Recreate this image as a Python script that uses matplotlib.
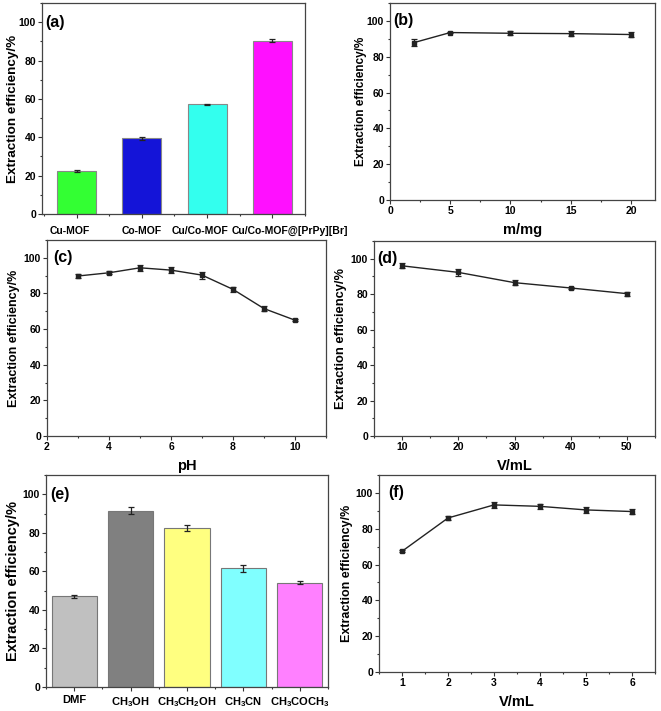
import matplotlib
matplotlib.use("Agg")
import matplotlib.pyplot as plt
from matplotlib.ticker import MultipleLocator, FixedLocator
from matplotlib.transforms import ScaledTranslation, blended_transform_factory

plt.rcParams['font.family'] = ['Liberation Sans', 'DejaVu Sans']
plt.rcParams['font.weight'] = 'bold'
plt.rcParams['mathtext.fontset'] = 'custom'
plt.rcParams['mathtext.bf'] = 'Liberation Sans:bold'
plt.rcParams['mathtext.rm'] = 'Liberation Sans:bold'
plt.rcParams['mathtext.default'] = 'bf'

# ---- data ----
a_cats = ['Cu-MOF', 'Co-MOF', 'Cu/Co-MOF', 'Cu/Co-MOF@[PrPy][Br]']
a_vals = [22.6, 39.4, 57.1, 90.3]
a_errs = [0.5, 1.0, 0.5, 0.8]
a_colors = ['#33ff33', '#1414d8', '#33ffee', '#ff10ff']

b_x = [2, 5, 10, 15, 20]
b_y = [87.9, 93.5, 93.1, 92.9, 92.4]
b_err = [1.8, 0.5, 1.0, 1.5, 1.2]

c_x = [3, 4, 5, 6, 7, 8, 9, 10]
c_y = [89.8, 91.6, 94.4, 93.1, 90.3, 82.3, 71.5, 65.0]
c_err = [1.2, 0.8, 1.8, 1.5, 2.0, 1.5, 1.2, 0.6]

d_x = [10, 20, 30, 40, 50]
d_y = [96.0, 92.3, 86.5, 83.5, 80.3]
d_err = [1.5, 1.8, 1.5, 0.8, 1.2]

e_cats = ['DMF', r'CH$_3$OH', r'CH$_3$CH$_2$OH', r'CH$_3$CN', r'CH$_3$COCH$_3$']
e_vals = [47.0, 91.5, 82.4, 61.5, 54.2]
e_errs = [0.8, 1.8, 1.5, 2.0, 1.0]
e_colors = ['#c0c0c0', '#808080', '#ffff80', '#80ffff', '#ff80ff']

f_x = [1, 2, 3, 4, 5, 6]
f_y = [67.4, 86.0, 93.3, 92.5, 90.5, 89.6]
f_err = [0.5, 1.0, 1.5, 1.3, 1.8, 1.5]

yticks = [0, 20, 40, 60, 80, 100]

W, H = 661, 711
fig = plt.figure(figsize=(W / 100, H / 100), dpi=100)
fig.patch.set_facecolor('white')


def add_ax(l, r, t, b):
    ax = fig.add_axes([l / W, 1 - b / H, (r - l) / W, (b - t) / H])
    ax._px = (l, r, t, b)
    return ax


def style(ax, label, ylabel_size, ylabel_right, label_dx):
    l, r, t, b = ax._px
    ax.set_ylim(0, 110)
    ax.yaxis.set_major_locator(FixedLocator(yticks))
    ax.yaxis.set_minor_locator(MultipleLocator(10))
    ax.tick_params(which='both', direction='out', top=False, right=False,
                   labelsize=7.5, width=0.8, colors='#333333', labelcolor='black',
                   pad=1.5)
    ax.tick_params(which='major', length=2.8)
    ax.tick_params(which='minor', length=1.6)
    for s in ax.spines.values():
        s.set_linewidth(0.9)
        s.set_color('#444444')
    ax.set_ylabel('Extraction efficiency/%', fontsize=ylabel_size,
                  fontweight='bold')
    ax.yaxis.set_label_coords((ylabel_right - l) / (r - l), 0.5)
    ax.text(label_dx / (r - l), 100, label,
            transform=blended_transform_factory(ax.transAxes, ax.transData),
            fontsize=11.5, fontweight='bold', va='center', ha='left')
    for lab in ax.get_xticklabels() + ax.get_yticklabels():
        lab.set_fontweight('bold')


def set_xlabel(ax, text):
    l, r, t, b = ax._px
    ax.set_xlabel(text, fontsize=10.5, fontweight='bold')
    ax.xaxis.set_label_coords(0.5, -23 / (b - t))


def line_panel(ax, x, y, err):
    ax.errorbar(x, y, yerr=err, color='#222222', marker='s', markersize=3.0,
                linewidth=1.0, elinewidth=0.9, capsize=2.2, capthick=0.9)


# (a)
axa = add_ax(42, 305, 3, 214)
pos = list(range(len(a_cats)))
axa.bar(pos, a_vals, width=0.6, color=a_colors, edgecolor='#888888',
        linewidth=0.8, yerr=a_errs, capsize=2,
        error_kw=dict(elinewidth=0.9, capthick=0.9, ecolor='#222222'))
axa.set_xlim(-0.53, 3.5)
axa.set_xticks(pos)
axa.set_xticklabels(a_cats)
axa.xaxis.set_minor_locator(MultipleLocator(0.5))
style(axa, '(a)', 9.7, 19, 3)
axa.tick_params(axis='x', labelsize=7.5, pad=6)
for lab, dx in zip(axa.get_xticklabels(), [-7, 0, -7, 18]):
    lab.set_transform(lab.get_transform() + ScaledTranslation(dx / 100, 0, fig.dpi_scale_trans))

# (b)
axb = add_ax(390, 655, 3, 200)
line_panel(axb, b_x, b_y, b_err)
axb.set_xlim(0, 22)
axb.xaxis.set_major_locator(FixedLocator([0, 5, 10, 15, 20]))
axb.xaxis.set_minor_locator(MultipleLocator(2.5))
style(axb, '(b)', 8.5, 367, 3)
set_xlabel(axb, 'm/mg')

# (c)
axc = add_ax(47, 326, 240, 436)
line_panel(axc, c_x, c_y, c_err)
axc.set_xlim(2, 11)
axc.xaxis.set_major_locator(FixedLocator([2, 4, 6, 8, 10]))
axc.xaxis.set_minor_locator(MultipleLocator(1))
style(axc, '(c)', 9, 20, 6)
set_xlabel(axc, 'pH')

# (d)
axd = add_ax(374, 655, 241, 436)
line_panel(axd, d_x, d_y, d_err)
axd.set_xlim(5, 55)
axd.xaxis.set_major_locator(FixedLocator([10, 20, 30, 40, 50]))
axd.xaxis.set_minor_locator(MultipleLocator(5))
style(axd, '(d)', 9.3, 347, 3)
set_xlabel(axd, 'V/mL')

# (e)
axe = add_ax(46, 328, 475, 687)
pos = list(range(len(e_cats)))
axe.bar(pos, e_vals, width=0.8, color=e_colors, edgecolor='#777777',
        linewidth=0.8, yerr=e_errs, capsize=2,
        error_kw=dict(elinewidth=0.9, capthick=0.9, ecolor='#222222'))
axe.set_xlim(-0.5, 4.5)
axe.set_xticks(pos)
axe.set_xticklabels(e_cats)
axe.xaxis.set_minor_locator(MultipleLocator(0.5))
style(axe, '(e)', 10.5, 20, 4)
axe.tick_params(axis='x', labelsize=8, pad=3)

# (f)
axf = add_ax(379, 655, 475, 672)
line_panel(axf, f_x, f_y, f_err)
axf.set_xlim(0.5, 6.5)
axf.xaxis.set_major_locator(FixedLocator(f_x))
axf.xaxis.set_minor_locator(MultipleLocator(0.5))
style(axf, '(f)', 9, 353, 9)
set_xlabel(axf, 'V/mL')

fig.savefig('out.png', dpi=100)
